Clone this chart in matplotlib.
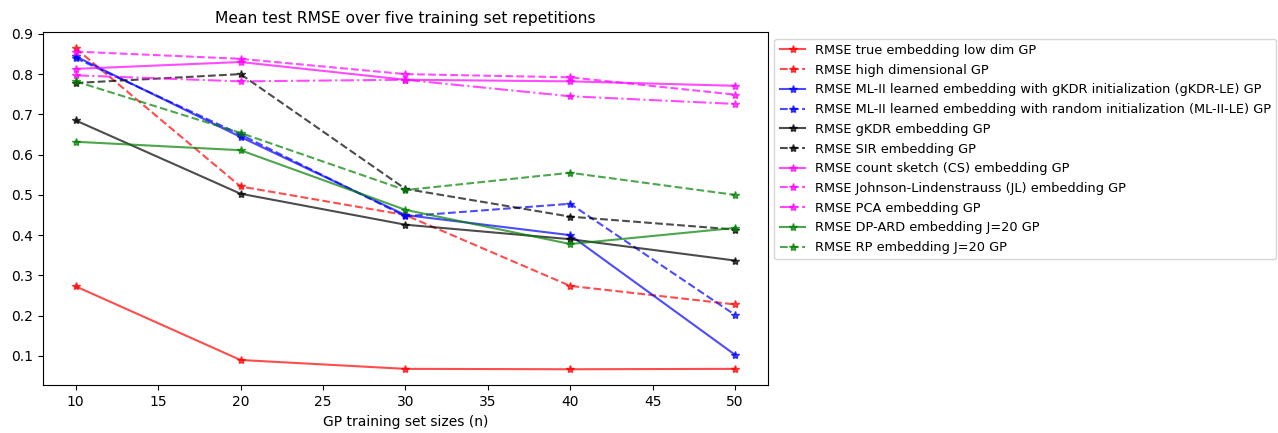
import matplotlib
matplotlib.use("Agg")
import matplotlib.pyplot as plt

n_train = [10, 20, 30, 40, 50]

rmse_true_low_dim = [0.273, 0.090, 0.068, 0.067, 0.068]
rmse_high_dim = [0.864, 0.521, 0.450, 0.274, 0.228]
rmse_gkdr_le = [0.844, 0.644, 0.450, 0.400, 0.103]
rmse_ml2_le = [0.840, 0.650, 0.447, 0.478, 0.202]
rmse_gkdr = [0.685, 0.503, 0.426, 0.390, 0.337]
rmse_sir = [0.778, 0.800, 0.515, 0.446, 0.414]
rmse_cs = [0.813, 0.830, 0.786, 0.782, 0.771]
rmse_jl = [0.856, 0.838, 0.800, 0.792, 0.749]
rmse_pca = [0.797, 0.782, 0.786, 0.745, 0.726]
rmse_dp_ard = [0.632, 0.611, 0.463, 0.378, 0.418]
rmse_rp = [0.782, 0.654, 0.512, 0.555, 0.500]

series = [
    (rmse_true_low_dim, "red", "-", "RMSE true embedding low dim GP"),
    (rmse_high_dim, "red", "--", "RMSE high dimensional GP"),
    (rmse_gkdr_le, "blue", "-", "RMSE ML-II learned embedding with gKDR initialization (gKDR-LE) GP"),
    (rmse_ml2_le, "blue", "--", "RMSE ML-II learned embedding with random initialization (ML-II-LE) GP"),
    (rmse_gkdr, "black", "-", "RMSE gKDR embedding GP"),
    (rmse_sir, "black", "--", "RMSE SIR embedding GP"),
    (rmse_cs, "magenta", "-", "RMSE count sketch (CS) embedding GP"),
    (rmse_jl, "magenta", "--", "RMSE Johnson-Lindenstrauss (JL) embedding GP"),
    (rmse_pca, "magenta", "-.", "RMSE PCA embedding GP"),
    (rmse_dp_ard, "green", "-", "RMSE DP-ARD embedding J=20 GP"),
    (rmse_rp, "green", "--", "RMSE RP embedding J=20 GP"),
]

fig = plt.figure(figsize=(12.78, 4.33), dpi=100)
ax = fig.add_axes([42.7 / 1278, (433 - 385.3) / 433, (768 - 42.7) / 1278, (385.3 - 32.3) / 433])

for values, color, ls, label in series:
    ax.plot(n_train, values, color=color, linestyle=ls, marker="*", alpha=0.7, label=label)

ax.set_xlabel("GP training set sizes (n)")
ax.set_title("Mean test RMSE over five training set repetitions", fontsize=11.2, pad=7)
ax.legend(loc="upper left", bbox_to_anchor=(1.0, 1.0), fontsize=9.3,
          labelspacing=0.52, handletextpad=0.75, borderaxespad=0.5)

fig.savefig("out.png", dpi=100)
